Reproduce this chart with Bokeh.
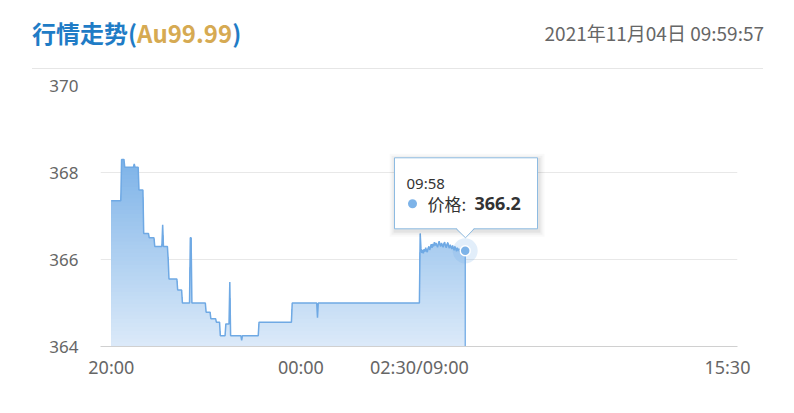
import numpy as np
from bokeh.plotting import figure
from bokeh.models import Range1d, FixedTicker, Div
from bokeh.layouts import column
from bokeh.core.properties import value
from bokeh.embed import file_html
from bokeh.resources import INLINE

# ---------------- data ----------------
title_main = "行情走势("
title_code = "Au99.99"
title_close = ")"
timestamp = "2021年11月04日 09:59:57"

xtick_minutes = [0, 240, 390, 780]
xtick_labels = ["20:00", "00:00", "02:30/09:00", "15:30"]
ytick_values = [364, 366, 368, 370]

# price level changes (minute index from 20:00, price)
step_minutes = [0, 13, 17, 29, 30, 35, 41, 48, 55, 65, 66, 72, 73, 84, 90,
                100, 102, 120, 126, 133, 138, 145, 150, 151, 165, 166, 187,
                229, 261, 262, 391]
step_prices = [367.35, 368.30, 368.12, 368.20, 368.12, 367.60, 366.60, 366.50,
               366.30, 366.80, 366.30, 366.00, 365.55, 365.30, 365.00,
               366.50, 365.00, 364.79, 364.64, 364.56, 364.25, 364.52, 365.48,
               364.25, 364.14, 364.25, 364.56, 365.00, 364.66, 365.00, 366.60]

# day session minute prices from 09:01
open_minute = 392
open_prices = [366.25, 366.15, 366.22, 366.14, 366.24, 366.18, 366.27, 366.20,
               366.17, 366.26, 366.30, 366.22, 366.28, 366.35, 366.27, 366.36,
               366.30, 366.40, 366.32, 366.38, 366.33, 366.28, 366.36, 366.42,
               366.34, 366.30, 366.38, 366.33, 366.28, 366.36, 366.40, 366.31,
               366.27, 366.35, 366.39, 366.30, 366.26, 366.34, 366.29, 366.24,
               366.32, 366.26, 366.21, 366.30, 366.25, 366.19, 366.27, 366.21,
               366.25, 366.17, 366.23, 366.19, 366.15, 366.22, 366.18, 366.16,
               366.20]
last_minute = 448
tooltip_time = "09:58"
tooltip_name = "价格"

# ---------------- build series ----------------
minutes = np.arange(0, last_minute + 1)
prices = np.zeros(len(minutes))
for m, v in zip(step_minutes, step_prices):
    prices[m:] = v
prices[open_minute:open_minute + len(open_prices)] = open_prices

# ---------------- layout constants ----------------
W = 790
HEAD_H = 70
MAIN_H = 340
X0, X1 = -13.7, 792.7
Y0, Y1 = 364, 370
FRAME_W = 637
FRAME_H = 261
ppx = FRAME_W / (X1 - X0)
ppy = FRAME_H / (Y1 - Y0)

CJK = value("Noto Sans CJK SC")
SANS = value("Noto Sans")

# ---------------- header (HTML) ----------------
head_html = (
    '<div style="position:relative;width:%dpx;height:%dpx;margin:0;padding:0;">'
    '<div style="position:absolute;left:32px;top:18px;font-family:\'Noto Sans CJK SC\';'
    'font-weight:bold;font-size:24px;line-height:30px;color:#1f7cc6;white-space:nowrap;">'
    '%s<span style="color:#d6aa52;">%s</span>%s</div>'
    '<div style="position:absolute;right:26px;top:20px;font-family:\'Noto Sans CJK SC\';'
    'font-size:19px;line-height:26px;color:#666666;white-space:nowrap;">%s</div>'
    '<div style="position:absolute;left:32px;top:68px;width:731px;height:1px;'
    'background:#e6e6e6;"></div>'
    '</div>'
) % (W, HEAD_H, title_main, title_code, title_close, timestamp)
head = Div(text=head_html, width=W, height=HEAD_H, margin=(0, 0, 0, 0))

# ---------------- main chart ----------------
p = figure(width=W, height=MAIN_H, x_range=Range1d(X0, X1), y_range=Range1d(Y0, Y1),
           output_backend="svg", toolbar_location=None,
           min_border_left=100, min_border_right=53, min_border_top=15, min_border_bottom=64)
p.outline_line_color = None
p.background_fill_color = "white"
p.border_fill_color = "white"
p.xgrid.visible = False
p.ygrid.grid_line_color = "#e8e8e8"
p.ygrid.grid_line_width = 1

p.yaxis.ticker = FixedTicker(ticks=ytick_values)
p.yaxis.axis_line_color = None
p.yaxis.major_tick_line_color = None
p.yaxis.minor_tick_line_color = None
p.yaxis.major_tick_out = 0
p.yaxis.major_tick_in = 0
p.yaxis.major_label_standoff = 22
p.yaxis.major_label_text_font = "Noto Sans"
p.yaxis.major_label_text_font_size = "17px"
p.yaxis.major_label_text_color = "#666666"

p.xaxis.ticker = FixedTicker(ticks=xtick_minutes)
p.xaxis.major_label_overrides = {m: l for m, l in zip(xtick_minutes, xtick_labels)}
p.xaxis.axis_line_color = "#d0d0d0"
p.xaxis.major_tick_line_color = None
p.xaxis.minor_tick_line_color = None
p.xaxis.major_tick_out = 0
p.xaxis.major_tick_in = 0
p.xaxis.major_label_standoff = 8
p.xaxis.major_label_text_font = "Noto Sans"
p.xaxis.major_label_text_font_size = "18px"
p.xaxis.major_label_text_color = "#666666"

# gradient area fill
def mix(c1, c2, t):
    return "#%02x%02x%02x" % tuple(int(round(a + (b - a) * t)) for a, b in zip(c1, c2))

top_c = (125, 179, 232)
bot_c = (220, 234, 249)
vmax = prices.max()
N = 48
levels = np.linspace(Y0, vmax, N + 1)
for i in range(N, 0, -1):
    hi = levels[i]
    t = ((levels[i] + levels[i - 1]) / 2 - Y0) / (vmax - Y0)
    col = mix(bot_c, top_c, t)
    p.varea(x=minutes, y1=np.full(len(minutes), Y0), y2=np.minimum(prices, hi),
            fill_color=col, fill_alpha=1.0)

line_c = "#6fa9e4"
p.line(minutes, prices, line_color=line_c, line_width=1.5)
p.segment(x0=[minutes[-1]], y0=[prices[-1]], x1=[minutes[-1]], y1=[Y0],
          line_color=line_c, line_width=1.2)

# highlighted last point
ax, ay = minutes[-1], prices[-1]
p.scatter([ax], [ay], size=25, fill_color="#7db3e8", fill_alpha=0.22, line_color=None)
p.scatter([ax], [ay], size=10, fill_color="#7db3e8", line_color="white", line_width=1.5)

# tooltip
def dx(px):
    return px / ppx

def dy(px):
    return px / ppy

bl, br = ax + dx(-70.7), ax + dx(72.3)
bt, bb = ay + dy(93), ay + dy(22)
for k, a in [(6, 0.025), (4, 0.035), (2, 0.05)]:
    p.quad(left=[bl - dx(k) + dx(1)], right=[br + dx(k) + dx(1)],
           top=[bt + dy(k) - dy(2)], bottom=[bb - dy(k) - dy(2)],
           fill_color="black", fill_alpha=a, line_color=None)
border_c = "#8dbbe2"
p.quad(left=[bl], right=[br], top=[bt], bottom=[bb], fill_color="white",
       line_color=border_c, line_width=1)
tri_x = [ax + dx(-9), ax + dx(0.3), ax + dx(9)]
tri_y = [bb + dy(1), ay + dy(13), bb + dy(1)]
p.patch(tri_x, tri_y, fill_color="white", line_color=None)
p.line(tri_x, [bb, ay + dy(13), bb], line_color=border_c, line_width=1)

p.text(x=[ax + dx(-58.7)], y=[ay + dy(68)], text=[tooltip_time], text_font=SANS,
       text_font_size="15px", text_color="#333333", text_align="left", text_baseline="middle")
p.scatter([ax + dx(-52.7)], [ay + dy(47)], size=9, fill_color="#7db3e8", line_color=None)
p.text(x=[ax + dx(-37.7)], y=[ay + dy(47)], text=[tooltip_name + ":"], text_font=CJK,
       text_font_size="17px", text_color="#333333", text_align="left", text_baseline="middle")
p.text(x=[ax + dx(9.3)], y=[ay + dy(47)], text=["%.1f" % prices[-1]], text_font=SANS,
       text_font_style="bold", text_font_size="18px", text_color="#333333",
       text_align="left", text_baseline="middle")

layout = column(head, p, spacing=0)
open("out.html", "w").write(file_html(layout, INLINE))
